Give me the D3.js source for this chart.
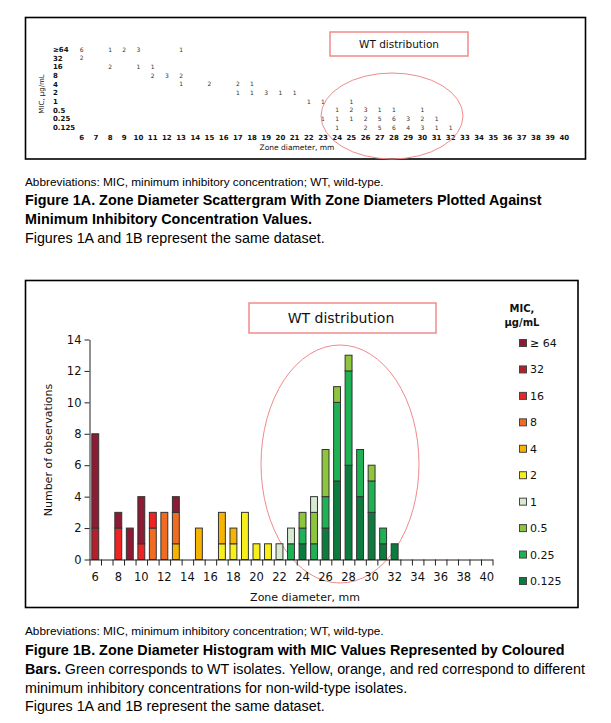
<!DOCTYPE html>
<html><head><meta charset="utf-8">
<script src="https://cdn.jsdelivr.net/npm/d3@7/dist/d3.min.js"></script>
<style>body{margin:0;background:#fff}svg{display:block}</style>
</head><body><svg id="c" width="611" height="723"></svg>
<script>
// ---------- data ----------
const zones = [6,7,8,9,10,11,12,13,14,15,16,17,18,19,20,21,22,23,24,25,26,27,28,29,30,31,32,33,34,35,36,37,38,39,40];
const xTickLabels = [6,8,10,12,14,16,18,20,22,24,26,28,30,32,34,36,38,40];
const yTicks = [0,2,4,6,8,10,12,14];
const micLabels = ["≥64","32","16","8","4","2","1","0.5","0.25","0.125"];
const legendLabels = ["≥ 64","32","16","8","4","2","1","0.5","0.25","0.125"];
const micColors = ["#8c1b33","#b3202b","#ee2424","#f06c22","#f6b400","#f6ef1c","#d7ebd0","#8dc53d","#1fb254","#0c7b3e"];
// counts per MIC: [zone, count]
const c_ge64 = [[6,6],[8,1],[9,2],[10,3],[13,1]];
const c_32   = [[6,2]];
const c_16   = [[8,2],[10,1],[11,1]];
const c_8    = [[11,2],[12,3],[13,2]];
const c_4    = [[13,1],[15,2],[17,2],[18,1]];
const c_2    = [[17,1],[18,1],[19,3],[20,1],[21,1]];
const c_1    = [[22,1],[23,1],[25,1]];
const c_05   = [[24,1],[25,2],[26,3],[27,1],[28,1],[30,1]];
const c_025  = [[23,1],[24,1],[25,1],[26,2],[27,5],[28,6],[29,3],[30,2],[31,1]];
const c_0125 = [[24,1],[26,2],[27,5],[28,6],[29,4],[30,3],[31,1],[32,1]];
const countsByMic = [c_ge64,c_32,c_16,c_8,c_4,c_2,c_1,c_05,c_025,c_0125];

const svg = d3.select("#c");
svg.append("rect").attr("width",611).attr("height",723).attr("fill","#fff");
const chartFont = "DejaVu Sans, Verdana, sans-serif";
const capFont = "Liberation Sans, Arial, sans-serif";
const pink = "#f08a8a";

// ---------- Figure 1A: scattergram ----------
const gA = svg.append("g");
gA.append("rect").attr("x",25.5).attr("y",17.5).attr("width",560).attr("height",141.5)
  .attr("fill","none").attr("stroke","#000").attr("stroke-width",1.6);
const xA = d3.scaleLinear().domain([6,40]).range([81.7,564.3]);
const yA = d3.scalePoint().domain(micLabels).range([49.3,127.7]);
gA.selectAll("text.row").data(micLabels).join("text").attr("class","row")
  .attr("x",53).attr("y",d=>yA(d)+2.5).text(d=>d)
  .attr("font-family",chartFont).attr("font-size",7).attr("font-weight","bold").attr("fill","#111");
gA.selectAll("text.col").data(zones).join("text").attr("class","col")
  .attr("x",d=>xA(d)).attr("y",140).attr("text-anchor","middle").text(d=>d)
  .attr("font-family",chartFont).attr("font-size",7).attr("font-weight","bold").attr("fill","#111");
micLabels.forEach((m,i)=>{
  gA.selectAll(null).data(countsByMic[i]).join("text")
    .attr("x",d=>xA(d[0])).attr("y",yA(m)+2.2).attr("text-anchor","middle").text(d=>d[1])
    .attr("font-family",chartFont).attr("font-size",6).attr("fill","#333");
});
gA.append("text").attr("transform","translate(44,94) rotate(-90)").attr("text-anchor","middle")
  .text("MIC, μg/mL").attr("font-family",chartFont).attr("font-size",7).attr("fill","#111");
gA.append("text").attr("x",297).attr("y",150).attr("text-anchor","middle")
  .text("Zone diameter, mm").attr("font-family",chartFont).attr("font-size",7.5).attr("fill","#111");
gA.append("rect").attr("x",330).attr("y",32).attr("width",138).attr("height",24)
  .attr("fill","none").attr("stroke",pink).attr("stroke-width",1.5);
gA.append("text").attr("x",399).attr("y",48).attr("text-anchor","middle").text("WT distribution")
  .attr("font-family",chartFont).attr("font-size",10.5).attr("fill","#111");
gA.append("ellipse").attr("cx",392).attr("cy",116).attr("rx",71).attr("ry",43)
  .attr("fill","none").attr("stroke",pink).attr("stroke-width",1);

// captions
function caption(lines){
  lines.forEach(l=>{
    const t = svg.append("text").attr("x",25).attr("y",l.y).attr("font-family",capFont).attr("fill","#000");
    l.parts.forEach(p=>t.append("tspan").text(p.t).attr("font-size",p.s).attr("font-weight",p.b?"bold":"normal"));
  });
}
const sAbbr = 11.8, sBold = 14.35, sNorm = 14.3;
caption([
  {y:186, parts:[{t:"Abbreviations: MIC, minimum inhibitory concentration; WT, wild-type.",s:sAbbr}]},
  {y:205, parts:[{t:"Figure 1A. Zone Diameter Scattergram With Zone Diameters Plotted Against",s:sBold,b:true}]},
  {y:224, parts:[{t:"Minimum Inhibitory Concentration Values.",s:sBold,b:true}]},
  {y:243, parts:[{t:"Figures 1A and 1B represent the same dataset.",s:sNorm}]}
]);

// ---------- Figure 1B: histogram ----------
const gB = svg.append("g");
gB.append("rect").attr("x",25.5).attr("y",280.5).attr("width",552.5).attr("height",327)
  .attr("fill","none").attr("stroke","#000").attr("stroke-width",1.6);

const x = d3.scaleBand().domain(zones).range([89.5,492.5]).paddingInner(0.4).paddingOuter(0.2);
const y = d3.scaleLinear().domain([0,14]).range([559.5,339.5]);
const stackKeys = micLabels.slice().reverse(); // lowest MIC at bottom
const table = zones.map(z=>{
  const row = {zone:z};
  micLabels.forEach((m,i)=>{ const f = countsByMic[i].find(d=>d[0]===z); row[m] = f ? f[1] : 0; });
  return row;
});
const series = d3.stack().keys(stackKeys)(table);
const color = d3.scaleOrdinal().domain(micLabels).range(micColors);

gB.append("ellipse").attr("cx",340).attr("cy",464).attr("rx",79).attr("ry",119)
  .attr("fill","none").attr("stroke",pink).attr("stroke-width",1);

series.forEach(s=>{
  gB.selectAll(null).data(s.filter(d=>d[1]>d[0])).join("rect")
    .attr("x",d=>x(d.data.zone)).attr("width",x.bandwidth())
    .attr("y",d=>y(d[1])).attr("height",d=>y(d[0])-y(d[1]))
    .attr("fill",color(s.key)).attr("stroke","#333").attr("stroke-width",1);
});

// axes
const xl = d3.scaleLinear().domain([5.5,40.5]).range([89.5,492.5]);
const tickPos = zones.map(z=>z-0.5).concat([40.5]);
const axT = gB.append("g").attr("transform","translate(0,559.5)")
  .call(d3.axisBottom(xl).tickValues(tickPos).tickSize(6).tickSizeOuter(0).tickFormat(""));
const axL = gB.append("g").attr("transform","translate(0,559.5)")
  .call(d3.axisBottom(x).tickValues(xTickLabels).tickSize(0).tickPadding(13));
axL.select(".domain").remove();
axL.selectAll("text").attr("font-family",chartFont).attr("font-size",11.5).attr("fill","#111");
const ay = gB.append("g").attr("transform","translate(89.5,0)")
  .call(d3.axisLeft(y).tickValues(yTicks).tickSize(5).tickSizeOuter(0).tickPadding(3));
ay.selectAll("text").attr("font-family",chartFont).attr("font-size",11.5).attr("fill","#111");
[axT,ay].forEach(a=>{a.selectAll("line,path").attr("stroke","#222");});

gB.append("text").attr("transform","translate(52,450) rotate(-90)").attr("text-anchor","middle")
  .text("Number of observations").attr("font-family",chartFont).attr("font-size",11).attr("fill","#111");
gB.append("text").attr("x",305).attr("y",601).attr("text-anchor","middle")
  .text("Zone diameter, mm").attr("font-family",chartFont).attr("font-size",11).attr("fill","#111");

gB.append("rect").attr("x",249).attr("y",303).attr("width",187).attr("height",30)
  .attr("fill","none").attr("stroke",pink).attr("stroke-width",1.5);
gB.append("text").attr("x",341).attr("y",323).attr("text-anchor","middle").text("WT distribution")
  .attr("font-family",chartFont).attr("font-size",14).attr("fill","#111");

// legend
gB.append("text").attr("x",522).attr("y",312).attr("text-anchor","middle").text("MIC,")
  .attr("font-family",chartFont).attr("font-size",10).attr("font-weight","bold").attr("fill","#111");
gB.append("text").attr("x",522).attr("y",326).attr("text-anchor","middle").text("μg/mL")
  .attr("font-family",chartFont).attr("font-size",10).attr("font-weight","bold").attr("fill","#111");
const ly = d3.scalePoint().domain(micLabels).range([343,581]);
const lg = gB.selectAll("g.leg").data(micLabels).join("g").attr("class","leg")
  .attr("transform",d=>`translate(519,${ly(d)})`);
lg.append("rect").attr("x",0.5).attr("y",-3.5).attr("width",7).attr("height",7)
  .attr("fill",d=>color(d)).attr("stroke","#444").attr("stroke-width",1);
lg.append("text").attr("x",11).attr("y",4).text((d,i)=>legendLabels[i])
  .attr("font-family",chartFont).attr("font-size",11).attr("fill","#111");

caption([
  {y:635, parts:[{t:"Abbreviations: MIC, minimum inhibitory concentration; WT, wild-type.",s:sAbbr}]},
  {y:655, parts:[{t:"Figure 1B. Zone Diameter Histogram with MIC Values Represented by Coloured",s:sBold,b:true}]},
  {y:674, parts:[{t:"Bars.",s:sBold,b:true},{t:" Green corresponds to WT isolates. Yellow, orange, and red correspond to different",s:sNorm}]},
  {y:693, parts:[{t:"minimum inhibitory concentrations for non-wild-type isolates.",s:sNorm}]},
  {y:711, parts:[{t:"Figures 1A and 1B represent the same dataset.",s:sNorm}]}
]);
</script></body></html>
